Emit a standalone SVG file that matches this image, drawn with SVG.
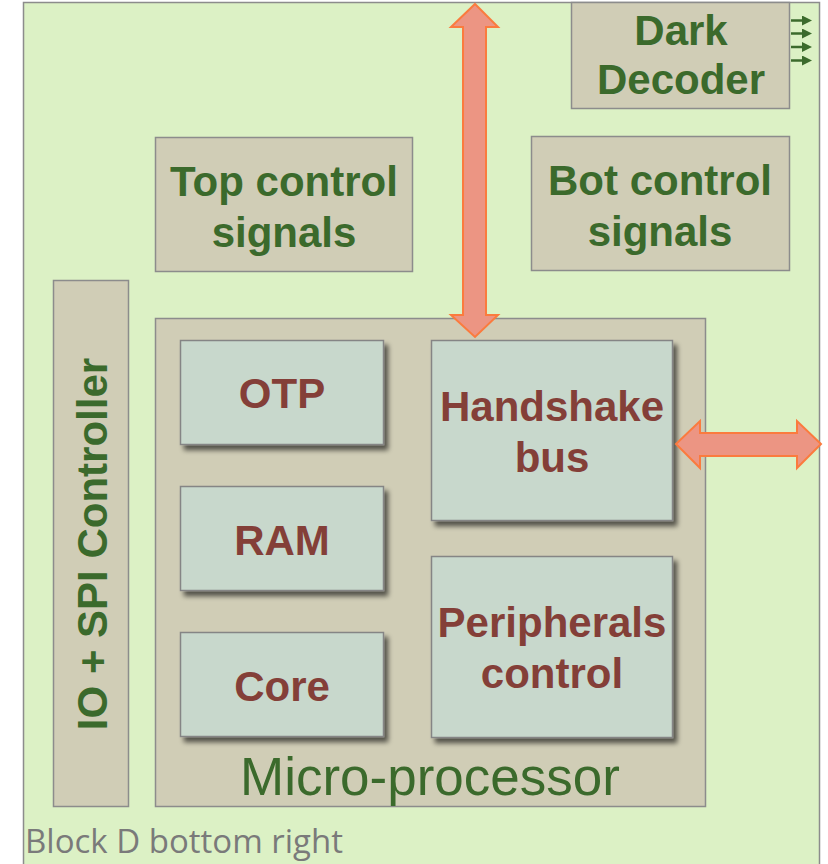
<svg xmlns="http://www.w3.org/2000/svg" width="828" height="864" viewBox="0 0 828 864">
<defs>
<style>
.bg{fill:#dcf1c5;stroke:#8c8c8c;stroke-width:1.5}
.tan{fill:#d0cdb6;stroke:#8c8c8c;stroke-width:1.5}
.inner{fill:#c8d8cc;stroke:#858585;stroke-width:1.5;filter:url(#sh)}
.gt{font-family:"Liberation Sans",Arial,sans-serif;font-weight:bold;font-size:42px;fill:#3b6a2c;text-anchor:middle}
.rt{font-family:"Liberation Sans",Arial,sans-serif;font-weight:bold;font-size:42px;fill:#843f38;text-anchor:middle}
.big{font-family:"Liberation Sans",Arial,sans-serif;font-size:53px;fill:#3b6a2c;text-anchor:middle}
.cap{font-family:"Open Sans",sans-serif;font-size:33px;fill:#7a7a7a}
.bus{fill:#ec9583;stroke:#fb7b3e;stroke-width:2;stroke-linejoin:miter}
.sig{stroke:#3b6a2c;stroke-width:2.5;fill:none;marker-end:url(#ah)}
</style>
<filter id="sh" x="-10%" y="-10%" width="130%" height="130%">
<feGaussianBlur in="SourceAlpha" stdDeviation="2.5"/>
<feOffset dx="4" dy="5" result="b"/>
<feComponentTransfer><feFuncA type="linear" slope="0.6"/></feComponentTransfer>
<feMerge><feMergeNode/><feMergeNode in="SourceGraphic"/></feMerge>
</filter>
<marker id="ah" markerWidth="4" markerHeight="4" refX="2" refY="2" orient="auto" markerUnits="strokeWidth">
<path d="M0,0 L4,2 L0,4 z" fill="#3b6a2c"/>
</marker>
</defs>

<rect class="bg" x="23.5" y="2.5" width="796" height="900"/>

<g id="dark-decoder">
<rect class="tan" x="571.5" y="2.5" width="218" height="106"/>
<text class="gt" x="681" y="45">Dark</text>
<text class="gt" x="681" y="94">Decoder</text>
</g>

<g id="top-control">
<rect class="tan" x="155.5" y="137.5" width="257" height="134"/>
<text class="gt" x="284" y="196">Top control</text>
<text class="gt" x="284" y="247">signals</text>
</g>

<g id="bot-control">
<rect class="tan" x="531.5" y="136.5" width="258" height="134"/>
<text class="gt" x="660" y="195">Bot control</text>
<text class="gt" x="660" y="246">signals</text>
</g>

<g id="io-spi">
<rect class="tan" x="53.5" y="280.5" width="75" height="526"/>
<text class="gt" transform="translate(107,544) rotate(-90)">IO + SPI Controller</text>
</g>

<g id="micro-processor">
<rect class="tan" x="155.5" y="318.5" width="550" height="488"/>
<text class="big" x="430" y="795">Micro-processor</text>
</g>

<g id="otp">
<rect class="inner" x="180.5" y="340.5" width="203" height="104"/>
<text class="rt" x="282" y="408">OTP</text>
</g>

<g id="ram">
<rect class="inner" x="180.5" y="486.5" width="203" height="104"/>
<text class="rt" x="282" y="555">RAM</text>
</g>

<g id="core">
<rect class="inner" x="180.5" y="632.5" width="203" height="104"/>
<text class="rt" x="282" y="701">Core</text>
</g>

<g id="handshake">
<rect class="inner" x="431.5" y="340.5" width="241" height="180"/>
<text class="rt" x="552" y="421">Handshake</text>
<text class="rt" x="552" y="472">bus</text>
</g>

<g id="peripherals">
<rect class="inner" x="431.5" y="556.5" width="241" height="181"/>
<text class="rt" x="552" y="637">Peripherals</text>
<text class="rt" x="552" y="688">control</text>
</g>

<g id="connectors">
<polygon class="bus" points="475,4 498,27 486,27 486,315 498,315 475,337 451,315 463,315 463,27 451,27"/>
<polygon class="bus" points="676,444 700,421 700,433 797,433 797,421 821,444 797,468 797,456 700,456 700,468"/>
<line class="sig" x1="791" y1="20.5" x2="807" y2="20.5"/>
<line class="sig" x1="791" y1="33.5" x2="807" y2="33.5"/>
<line class="sig" x1="791" y1="47" x2="807" y2="47"/>
<line class="sig" x1="791" y1="60.5" x2="807" y2="60.5"/>
</g>

<text class="cap" x="25" y="853">Block D bottom right</text>
</svg>
